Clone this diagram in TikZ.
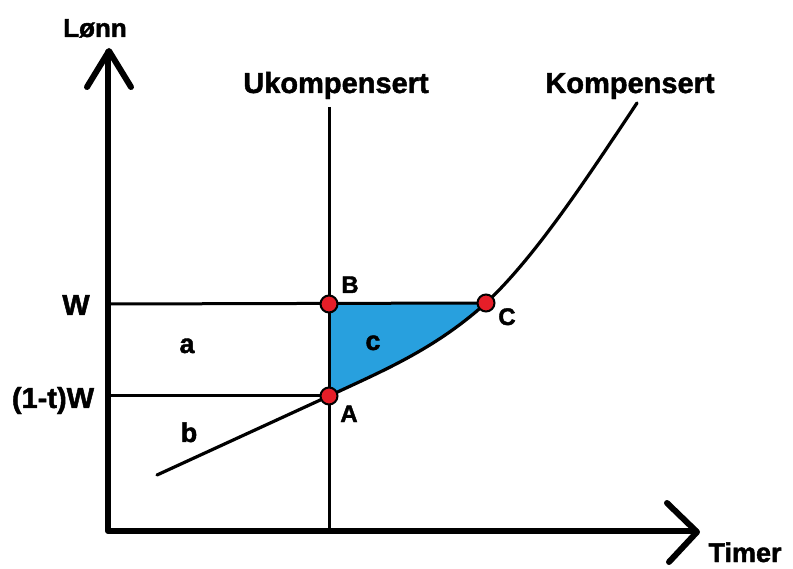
\documentclass[tikz,border=0pt]{standalone}
\usepackage{fontspec}
\setmainfont{Liberation Sans}[BoldFeatures={FakeBold=1.6}]
\definecolor{areablue}{RGB}{40,160,222}
\definecolor{dotred}{RGB}{230,30,40}
\begin{document}
\begin{tikzpicture}[x=1pt,y=-1pt,
  axis/.style={line width=6pt,line cap=round,line join=round},
  thin/.style={line width=3pt},
  curve/.style={line width=3.2pt,line cap=round},
  dot/.style={circle,draw=black,line width=2pt,fill=dotred,minimum size=17pt,inner sep=0pt},
  lbl/.style={font=\fontsize{29}{30}\selectfont\bfseries,anchor=base,inner sep=0pt},
  sml/.style={font=\fontsize{27}{28}\selectfont\bfseries,anchor=base,inner sep=0pt},
  pt/.style={font=\fontsize{24}{25}\selectfont\bfseries,anchor=base,inner sep=0pt}]
\useasboundingbox (0,0) rectangle (793,569);
% key points
\coordinate (O) at (108,531);
\coordinate (ytop) at (108,52);
\coordinate (xend) at (696,531);
\coordinate (A) at (329,396);
\coordinate (B) at (329,304);
\coordinate (C) at (486,303);
\coordinate (Ltop) at (329,107);
\coordinate (Lbot) at (329,531);
\coordinate (Wl) at (108,304);
\coordinate (Tl) at (108,396);
\coordinate (s0) at (157,475);
\coordinate (s1) at (637,103);
% shaded area
\fill[areablue] (B) -- (C) .. controls (434,350) and (381,371.5) .. (A) -- cycle;
% lines
\draw[thin] (Ltop) -- (Lbot);
\draw[thin] (Wl) -- (C);
\draw[thin] (Tl) -- (A);
\draw[curve] (s0) -- (A) .. controls (381,371.5) and (434,350) .. (C)
  .. controls (536,256) and (587,178) .. (s1);
% axes
\draw[axis] (ytop) -- (O) -- (xend);
\coordinate (ya1) at (87,87);
\coordinate (ya2) at (131,87);
\coordinate (ytip) at (109,51);
\draw[axis] (ya1) -- (ytip) -- (ya2);
\coordinate (xa1) at (667,503);
\coordinate (xa2) at (669,562);
\coordinate (xtip) at (697,532);
\draw[axis] (xa1) -- (xtip) -- (xa2);
% dots
\node[dot] (dA) at (A) {};
\node[dot] (dB) at (B) {};
\node[dot] (dC) at (C) {};
% labels
\node[lbl,font=\fontsize{26}{27}\selectfont\bfseries] (lonn) at (95,37) {Lønn};
\node[lbl,font=\fontsize{27}{28}\selectfont\bfseries] (timer) at (745,562) {Timer};
\node[lbl] (ukomp) at (336,93) {Ukompensert};
\node[lbl] (komp) at (630,93) {Kompensert};
\node[lbl] (lW) at (76,315) {W};
\node[lbl] (ltW) at (53,408) {(1-t)W};
\node[sml] (la) at (187,353) {a};
\node[sml] (lb) at (189,442) {b};
\node[sml] (lc) at (373,350) {c};
\node[pt] (lB) at (350,293) {B};
\node[pt] (lC) at (507,325) {C};
\node[pt] (lA) at (349,422) {A};
\end{tikzpicture}
\end{document}
